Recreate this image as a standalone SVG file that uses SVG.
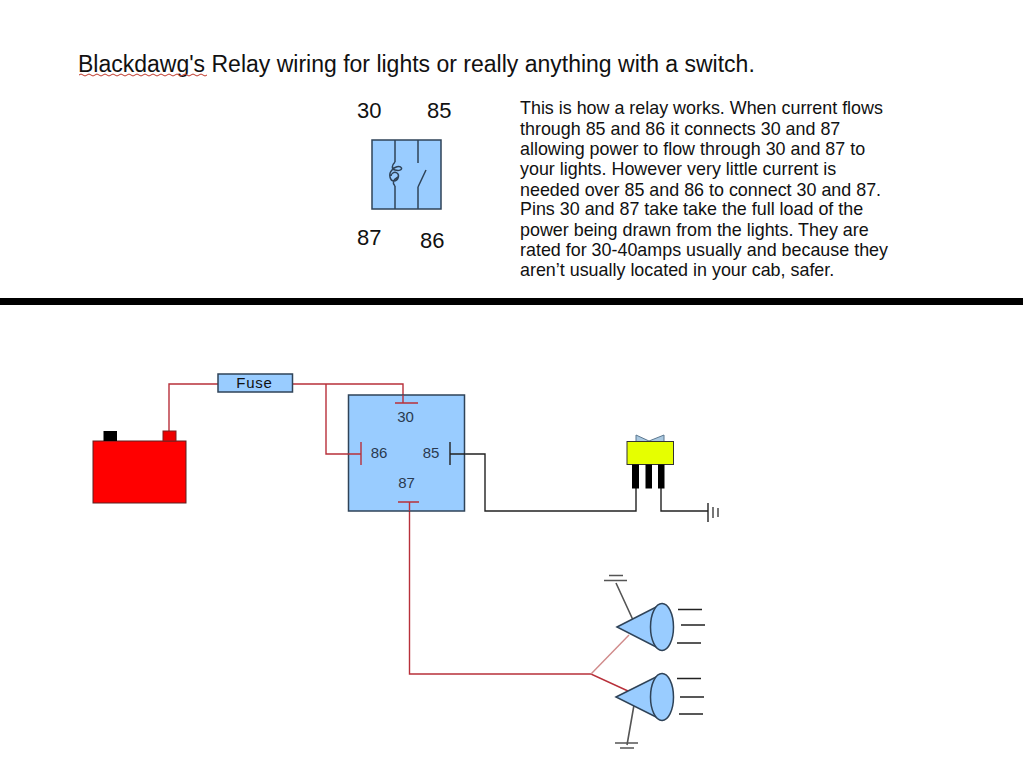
<svg xmlns="http://www.w3.org/2000/svg" width="1023" height="768" viewBox="0 0 1023 768">
<style>
text{font-family:"Liberation Sans",Arial,sans-serif;fill:#111}
.b{fill:#99ccff;stroke:#2f4358;stroke-width:1.5}
.r{fill:none;stroke:#b8303a;stroke-width:1.4}
.k{fill:none;stroke:#222;stroke-width:1.4}
.g{fill:none;stroke:#555;stroke-width:1.6}
.d{fill:none;stroke:#2f4358;stroke-width:1.5}
.l{font-size:15px;fill:#2a3a50}
.p{font-size:22px}
.t{font-size:17.9px}
</style>
<rect width="1023" height="768" fill="#fff"/>
<g id="title"><text x="78" y="71.500" font-size="23">Blackdawg's Relay wiring for lights or really anything with a switch.</text>
<path d="M79 75q2-2 4 0t4 0 4 0 4 0 4 0 4 0 4 0 4 0 4 0 4 0 4 0 4 0 4 0 4 0 4 0 4 0 4 0 4 0 4 0 4 0 4 0 4 0 4 0 4 0 4 0 4 0 4 0 4 0 4 0 4 0 4 0 4 0" fill="none" stroke="#c0392b" stroke-width="1"/></g>
<g id="relay-symbol">
<rect class="b" x="372" y="140" width="69" height="69"/>
<path class="d" d="M395 140V162M395 186V209M418 140V163M418 187V209M418 187L426 170"/>
<path class="d" d="M395 162C392 165 391 169 395 170C399 171 402 170 401.500 168C400 165 394 167 392 170C388 174 390 181 394 181C398 181 400 175 397 173C394 171 391 174 391 176M395 186C392 183 393 180 398 177"/>
<text class="p" x="357" y="118">30</text><text class="p" x="427" y="118">85</text>
<text class="p" x="357" y="245">87</text><text class="p" x="420" y="248">86</text>
</g>
<g id="description">
<text class="t" x="520" y="113.500">This is how a relay works. When current flows</text>
<text class="t" x="520" y="134.500">through 85 and 86 it connects 30 and 87</text>
<text class="t" x="520" y="154.500">allowing power to flow through 30 and 87 to</text>
<text class="t" x="520" y="174.500">your lights. However very little current is</text>
<text class="t" x="520" y="195.500">needed over 85 and 86 to connect 30 and 87.</text>
<text class="t" x="520" y="214.500">Pins 30 and 87 take take the full load of the</text>
<text class="t" x="520" y="235.500">power being drawn from the lights. They are</text>
<text class="t" x="520" y="255.500">rated for 30-40amps usually and because they</text>
<text class="t" x="520" y="275.500">aren’t usually located in your cab, safer.</text>
</g>
<rect id="divider" x="0" y="298" width="1023" height="7" fill="#000"/>
<g id="connectors">
<path class="r" d="M169 431V384H218M293 384H403V395M326 384V454H348"/>
<path class="r" d="M409.500 511V674H591L628 691"/>
<path d="M591 674L629 635" fill="none" stroke="#d08a8a" stroke-width="1.4"/>
<path class="k" d="M465 454H485V511H636V488M661 488V511H708"/>
<path class="g" d="M616 583L633 620M634 705L627 745"/>
</g>
<g id="battery">
<rect x="93" y="441" width="93" height="62" fill="#f00" stroke="#5a2020"/>
<rect x="103.500" y="431" width="13.500" height="10" fill="#000"/>
<rect x="163" y="431" width="13" height="10" fill="#e00" stroke="#7a2020"/>
</g>
<g id="fuse"><rect class="b" x="218" y="374" width="74.500" height="18"/><text x="254.500" y="388" text-anchor="middle" font-size="15" fill="#2a3a50" style="letter-spacing:.8px">Fuse</text></g>
<g id="relay">
<rect class="b" x="348.500" y="395" width="116" height="116"/>
<path class="r" d="M395 403H418M403 395V403M361 442V465M348 454H361M398 502H419M409.500 502V511"/>
<path class="k" d="M450 442V465M450 454H465"/>
<text class="l" x="405.500" y="422" text-anchor="middle">30</text>
<text class="l" x="379" y="457.500" text-anchor="middle">86</text>
<text class="l" x="431" y="457.500" text-anchor="middle">85</text>
<text class="l" x="406.500" y="488" text-anchor="middle">87</text>
</g>
<g id="switch">
<path d="M636 435L649 441L664 435V442H636Z" fill="#a9c8e0" stroke="#5c7890"/>
<rect x="627" y="441.500" width="46.500" height="23" fill="#e6ff00" stroke="#333"/>
<rect x="632" y="464.500" width="7" height="24" fill="#000"/><rect x="645.500" y="464.500" width="6.500" height="24" fill="#000"/><rect x="658" y="464.500" width="6.500" height="24" fill="#000"/>
</g>
<g id="ground-switch"><path class="k" d="M708 503V522"/><path class="g" d="M713 507V518M718 508V517"/></g>
<g id="lamp-top">
<path class="b" d="M617 627L662 604V650Z"/><ellipse class="b" cx="662" cy="627" rx="11.500" ry="23.500"/>
<path class="k" d="M678 609.500H702M681 625H705M677 643H701"/>
<path class="g" d="M604 580.500H627M609 575.500H623"/>
</g>
<g id="lamp-bottom">
<path class="b" d="M616 697L662 674V720Z"/><ellipse class="b" cx="662" cy="697" rx="11.500" ry="23.500"/>
<path class="k" d="M677 678.500H701M680 697H704M679 714H703"/>
<path class="g" d="M615 743H638M620 748H634"/>
</g>
</svg>
